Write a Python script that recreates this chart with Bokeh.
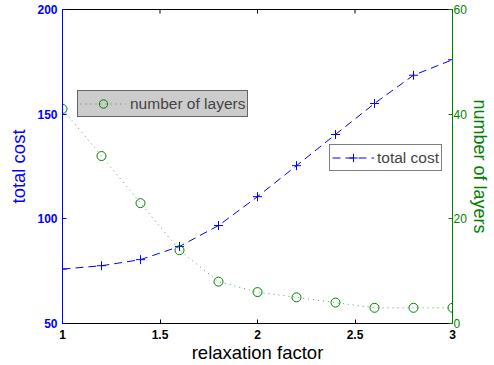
import math
from bokeh.plotting import figure
from bokeh.models import Range1d, LinearAxis, Legend, LegendItem, FixedTicker
from bokeh.embed import file_html
from bokeh.resources import INLINE

# ---- data ----
relaxation_factor = [1.0, 1.2, 1.4, 1.6, 1.8, 2.0, 2.2, 2.4, 2.6, 2.8, 3.0]
total_cost = [76, 77.6, 80.5, 86.8, 96.8, 110.6, 125.4, 140.3, 155.1, 168.6, 176]
number_of_layers = [41, 32, 23, 14, 8, 6, 5, 4, 3, 3, 3]

x_ticks = [1, 1.5, 2, 2.5, 3]
cost_ticks = [50, 100, 150, 200]
layer_ticks = [0, 20, 40, 60]

BLUE = "#0000ff"
GREEN = "#008000"
FONT = "Liberation Sans"

p = figure(width=494, height=365, x_range=Range1d(1, 3), y_range=Range1d(50, 200),
           output_backend="svg", toolbar_location=None,
           min_border_left=62, min_border_right=42, min_border_top=9, min_border_bottom=41)
p.extra_y_ranges = {"layers": Range1d(0, 60)}
p.grid.visible = False
p.outline_line_color = "black"
p.background_fill_color = "white"
p.border_fill_color = "white"

# left axis
ya = p.yaxis[0]
ya.ticker = FixedTicker(ticks=cost_ticks)
ya.axis_line_color = BLUE
ya.major_tick_line_color = BLUE
ya.major_tick_in = 4
ya.major_tick_out = 0
ya.minor_tick_line_color = None
ya.major_label_text_color = BLUE
ya.major_label_text_font = FONT
ya.major_label_text_font_style = "bold"
ya.major_label_text_font_size = "12px"
ya.major_label_standoff = 5
ya.axis_label = "total cost"
ya.axis_label_text_color = BLUE
ya.axis_label_text_font = FONT
ya.axis_label_text_font_style = "normal"
ya.axis_label_text_font_size = "18.5px"
ya.axis_label_standoff = 5

# bottom axis
xa = p.xaxis[0]
xa.ticker = FixedTicker(ticks=x_ticks)
xa.axis_line_color = "black"
xa.major_tick_line_color = "black"
xa.major_tick_in = 4
xa.major_tick_out = 0
xa.minor_tick_line_color = None
xa.major_label_text_color = "black"
xa.major_label_text_font = FONT
xa.major_label_text_font_style = "bold"
xa.major_label_text_font_size = "12px"
xa.major_label_standoff = 6
xa.axis_label = "relaxation factor"
xa.axis_label_text_color = "black"
xa.axis_label_text_font = FONT
xa.axis_label_text_font_style = "normal"
xa.axis_label_text_font_size = "18.5px"
xa.axis_label_standoff = 0

# top frame ticks (inward), from the x tick positions
p.ray(x=x_ticks, y=[200] * len(x_ticks), length=4, length_units="screen",
      angle=-math.pi / 2, line_color="black", line_width=1)

# right axis
ra = LinearAxis(y_range_name="layers", ticker=FixedTicker(ticks=layer_ticks),
                axis_line_color=GREEN, major_tick_line_color=GREEN,
                major_tick_in=4, major_tick_out=0, minor_tick_line_color=None,
                major_label_text_color=GREEN, major_label_text_font=FONT,
                major_label_text_font_size="12px", major_label_standoff=1,
                axis_label="number of layers", axis_label_text_color=GREEN,
                axis_label_text_font=FONT, axis_label_text_font_style="normal",
                axis_label_text_font_size="18px", axis_label_standoff=0)
p.add_layout(ra, "right")

# glyphs
l_cost = p.line(relaxation_factor, total_cost, line_color=BLUE, line_dash="8 5", line_width=1)
s_cost = p.scatter(relaxation_factor, total_cost, marker="cross", size=9, line_color=BLUE, line_width=1)
l_lay = p.line(relaxation_factor, number_of_layers, y_range_name="layers",
               line_color=GREEN, line_dash="1 4", line_width=1, line_alpha=0.7)
s_lay = p.scatter(relaxation_factor, number_of_layers, y_range_name="layers", marker="circle",
                  size=9, fill_color=None, line_color=GREEN, line_width=1)

leg1 = Legend(items=[LegendItem(label="number of layers", renderers=[l_lay, s_lay])],
              location=(15, 206), background_fill_color="#cccccc", background_fill_alpha=1,
              border_line_color="black", border_line_width=1.5, label_text_font=FONT,
              label_text_font_size="15.5px", padding=2, margin=0, spacing=0,
              glyph_width=46, glyph_height=21, label_height=21, label_standoff=4)
leg2 = Legend(items=[LegendItem(label="total cost", renderers=[l_cost, s_cost])],
              location=(267, 152), background_fill_color="white", background_fill_alpha=1,
              border_line_color="black", border_line_width=1.5, label_text_font=FONT,
              label_text_font_size="15.5px", padding=2, margin=0, spacing=0,
              glyph_width=42, glyph_height=21, label_height=21, label_standoff=3)
p.add_layout(leg1, "center")
p.add_layout(leg2, "center")

open("out.html", "w").write(file_html(p, INLINE))
